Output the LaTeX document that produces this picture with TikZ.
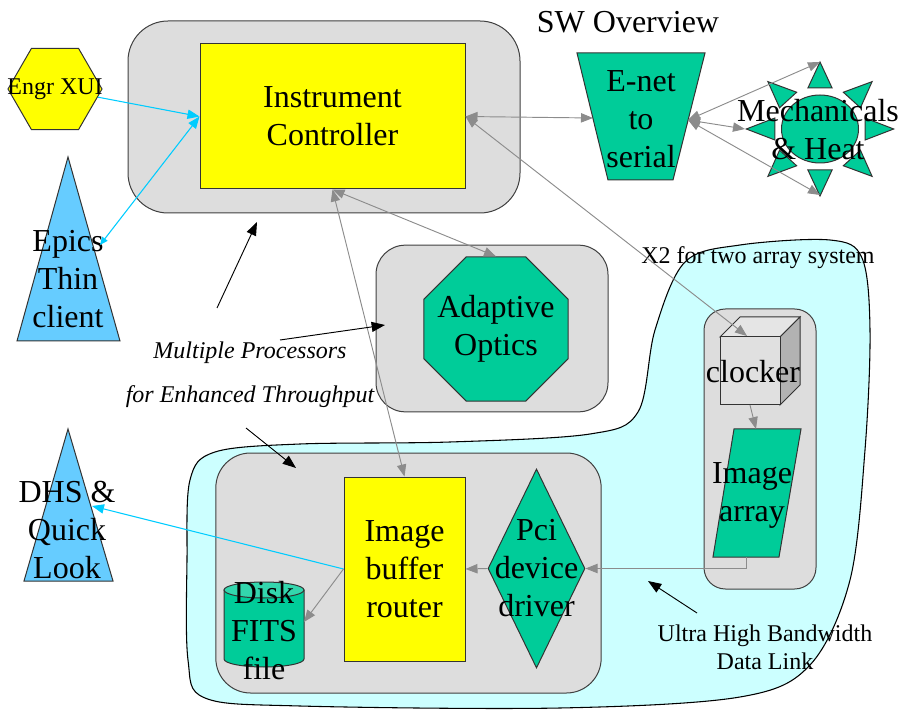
\documentclass[tikz,border=0pt]{standalone}
\usepackage{fontspec}
\setmainfont{Liberation Serif}
\usetikzlibrary{arrows.meta, positioning, shapes.geometric, calc}
\definecolor{cpanel}{HTML}{DDDDDD}
\definecolor{cyellow}{HTML}{FFFF00}
\definecolor{cgreen}{HTML}{00CC99}
\definecolor{cblue}{HTML}{66CCFF}
\definecolor{cwash}{HTML}{CCFFFF}
\definecolor{ccyan}{HTML}{00CCFF}
\definecolor{cgrey}{HTML}{8C8C8C}
\tikzset{
  every picture/.style={line width=0.75pt},
  grp/.style={draw=black!75, fill=cpanel, rounded corners=#1},
  grp/.default=20pt,
  shp/.style={draw=black!80, fill=#1},
  shp/.default=cgreen,
  big/.style={font=\fontsize{24}{28.5}\selectfont, align=center, inner sep=0pt},
  note/.style={font=\fontsize{18}{21}\selectfont, align=center, inner sep=0pt},
  link/.style={-{Triangle[length=9pt, width=7pt]}, draw=cgrey, line width=0.7pt},
  link2/.style={{Triangle[length=9pt, width=7pt]}-{Triangle[length=9pt, width=7pt]}, draw=cgrey, line width=0.7pt},
  clink/.style={-{Triangle[length=9pt, width=7pt]}, draw=ccyan, line width=0.8pt},
  callout/.style={-{Triangle[length=10pt, width=7.5pt]}, draw=black, line width=0.7pt},
}
\begin{document}
\begin{tikzpicture}[x=0.75pt, y=-0.75pt]
  \useasboundingbox (0,0) rectangle (901,713);
  % high bandwidth region
  \path[draw=black, fill=cwash, line width=0.8pt] plot[smooth cycle, tension=0.55] coordinates {
    (187,560) (190,480) (215,452) (300,444) (450,442) (590,434) (638,412) (655,330)
    (685,262) (740,245) (830,240) (862,258) (870,330) (865,450) (850,580) (810,665)
    (740,697) (560,708) (300,706) (205,698) (188,660)};
  % processor panels
  \node[grp=30pt, minimum width=294pt, minimum height=144pt] (icgrp) at (324,117) {};
  \node[grp=22pt, minimum width=174pt, minimum height=125pt] (aogrp) at (492,328.5) {};
  \node[grp=26pt, minimum width=289pt, minimum height=180pt] (rtgrp) at (408.5,573) {};
  \node[grp=16pt, minimum width=84pt, minimum height=210pt] (clkgrp) at (760,449) {};
  % boxes
  \node[shp=cyellow, big, minimum width=198.75pt, minimum height=108.75pt] (ic) at (332.5,116.5) {Instrument\\Controller};
  \node[shp=cyellow, big, minimum width=90.75pt, minimum height=138pt] (ibr) at (404.5,569) {Image\\buffer\\router};
  \node[regular polygon, regular polygon sides=8, shp=cgreen, minimum size=117pt, inner sep=0pt,
    label={[big]center:{Adaptive\\Optics}}] (ao) at (496,329) {};
  \node[diamond, shp=cgreen, minimum width=72.75pt, minimum height=149.25pt, inner sep=0pt,
    label={[big]center:{Pci\\device\\driver}}] (pci) at (536.5,568.5) {};
  \node[regular polygon, regular polygon sides=6, shp=cyellow, minimum size=70.5pt, inner sep=0pt,
    label={[note]center:Engr XUI}] (engr) at (55,89) {};
  % clients
  \path[shp=cblue] (68,157) -- (120,341) -- (17,341) -- cycle;
  \node[big] (epics) at (68,279) {Epics\\Thin\\client};
  \path[shp=cblue] (68,429) -- (113,581) -- (24,581) -- cycle;
  \node[big] (dhs) at (67,530) {DHS \&\\Quick\\Look};
  % disk
  \path[shp=cgreen] (224,590) -- (224,659) arc[start angle=180, end angle=0, x radius=40, y radius=8] -- (304,590) -- cycle;
  \path[shp=cgreen!80!white] (264,590) ellipse[x radius=40, y radius=8];
  \node[big] (disk) at (264,631) {Disk\\FITS\\file};
  % converter
  \path[shp=cgreen] (577,53) -- (705,53) -- (673,180) -- (608,180) -- cycle;
  \node[big] (enet) at (641,119) {E-net\\to\\serial};
  % sun
  \coordinate (sun) at (820,129);
  \begin{scope}[shift={(sun)}, xscale=1.1]
    \foreach \a in {0,45,...,315}
      \path[shp=cgreen] (\a:67) -- ($(\a:41)+(\a+90:11)$) -- ($(\a:41)+(\a-90:11)$) -- cycle;
    \path[shp=cgreen] (0,0) ellipse[x radius=35, y radius=34];
  \end{scope}
  \node[big] (mech) at (818,130) {Mechanicals\\\& Heat};
  % clocker cube
  \path[shp=black!10] (720,337) -- (740,317) -- (800,317) -- (780,337) -- cycle;
  \path[shp=black!30] (780,337) -- (800,317) -- (800,385) -- (780,405) -- cycle;
  \path[shp=black!12] (720,337) rectangle (780,405);
  \node[big] (clk) at (753,372) {clocker};
  % array
  \path[shp=cgreen] (734,429) -- (801,429) -- (779,557) -- (713,557) -- cycle;
  \node[big] (arr) at (752,495) {Image\\array};
  % texts
  \node[big] (title) at (628,22) {SW Overview};
  \node[note] (x2) at (758,258) {X2 for two array system};
  \node[note, font=\fontsize{18}{33}\selectfont\itshape] (mpnote) at (250,375) {Multiple Processors\\for Enhanced Throughput};
  \node[note] (uhb) at (765,647) {Ultra High Bandwidth\\Data Link};
  % connector ends
  \coordinate (epicsend) at (100,245);
  \coordinate (dhsend) at (92,506);
  \coordinate (diskr) at (304,622);
  \coordinate (enetl) at (593,118);
  \coordinate (enetr) at (688,120);
  \coordinate (rayN) at ($(sun)+(0,-67)$);
  \coordinate (rayW) at ($(sun)+(-75,0)$);
  \coordinate (rayS) at ($(sun)+(0,66)$);
  \coordinate (clktop) at (747,336);
  \coordinate (clkbot) at (750,405);
  \coordinate (arrtop) at (756,429);
  \coordinate (arrbot) at (746,557);
  \coordinate (c1a) at (217,308);
  \coordinate (c1b) at (257,222);
  \coordinate (c2a) at (280,340);
  \coordinate (c2b) at (385,325);
  \coordinate (c3a) at (246,428);
  \coordinate (c3b) at (296,468);
  \coordinate (c4a) at (697,613);
  \coordinate (c4b) at (648,581);
  % connectors
  \draw[clink] (engr) -- (ic.west);
  \draw[clink, {Triangle[length=6pt, width=5pt]}-{Triangle[length=9pt, width=7pt]}] (epicsend) -- (ic.west);
  \draw[clink] (ibr.west) -- (dhsend);
  \draw[link2] (ic.east) -- (enetl);
  \draw[link2] (enetr) -- (rayN);
  \draw[link2] (enetr) -- (rayW);
  \draw[link2] (enetr) -- (rayS);
  \draw[link2] (ic.east) -- (clktop);
  \draw[link2] (ic.south) -- (ao.north);
  \draw[link2] (ic.south) -- (ibr.north);
  \draw[link] (ibr.west) -- (diskr);
  \draw[link] (pci.west) -- (ibr.east);
  \draw[link] (arrbot) |- (pci.east);
  \draw[link] (clkbot) -- (arrtop);
  \draw[callout] (c1a) -- (c1b);
  \draw[callout] (c2a) -- (c2b);
  \draw[callout] (c3a) -- (c3b);
  \draw[callout] (c4a) -- (c4b);
\end{tikzpicture}
\end{document}
